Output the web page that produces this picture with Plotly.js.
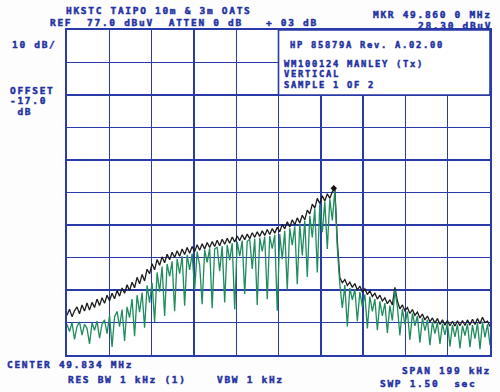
<!DOCTYPE html>
<html>
<head>
<meta charset="utf-8">
<script src="https://cdn.plot.ly/plotly-3.0.1.min.js"></script>
<style>
  html, body { margin:0; padding:0; background:#fdfdfd; }
  #chart { width:500px; height:392px; }
  text.annotation-text { letter-spacing: 1.7px; font-weight: 700; stroke: #2330a2; stroke-width: 0.45px; }
</style>
</head>
<body>
<div id="chart"></div>
<script>
// ---- instrument settings ----
const centerMHz = 49.834;
const spanMHz = 0.199;
const refLevel = 77.0;      // dBuV, top of screen
const dbPerDiv = 10;
const markerMHz = 49.8600;
const markerDb = 28.30;

// ---- trace 1 (black, max hold), dBuV per sweep point ----
const blackDb = [
  -10.8, -8.9, -11.2, -9.4, -8.2, -10.3, -7.6, -9.5, -7.0, -9.2, -6.8, -8.4,
  -5.8, -7.8, -5.4, -7.1, -4.6, -6.3, -4.0, -5.7, -3.1, -4.9, -2.4, -4.0,
  -1.4, -3.2, -0.6, -2.3, 0.9, -1.1, 1.8, -0.2, 3.4, 2.0, 5.1, 3.2,
  6.4, 4.6, 7.2, 5.4, 8.0, 6.3, 8.6, 7.0, 9.1, 7.4, 9.6, 7.9,
  10.1, 8.3, 10.4, 8.8, 10.9, 9.2, 11.2, 9.6, 11.6, 10.1, 11.9, 10.4,
  12.3, 10.6, 12.6, 11.1, 12.9, 11.4, 13.3, 11.8, 13.6, 12.2, 14.0, 12.5,
  14.2, 12.8, 14.6, 13.2, 14.9, 13.5, 15.2, 13.8, 15.6, 14.1, 15.9, 14.5,
  16.3, 14.9, 17.2, 15.8, 18.0, 16.4, 18.6, 17.1, 19.2, 17.6, 20.0, 18.6,
  21.6, 20.4, 23.4, 22.2, 25.2, 23.6, 26.0, 24.4, 26.6, 25.2, 27.2, 28.3,
  12.0, 0.8, -0.8, 0.2, -1.6, -0.6, -2.2, -1.0, -3.0, -1.8, -3.6, -2.6,
  -4.4, -3.2, -5.0, -4.0, -5.8, -4.6, -6.4, -5.4, -7.2, -6.0, -7.6, -2.2,
  -6.4, -8.8, -7.6, -9.4, -8.4, -10.2, -9.0, -10.8, -9.8, -11.6, -10.4, -12.2,
  -11.0, -12.8, -11.6, -13.2, -11.8, -13.6, -12.2, -13.8, -12.4, -14.0, -12.6, -14.1,
  -12.5, -14.0, -12.4, -13.9, -12.2, -13.8, -12.0, -13.6, -11.8, -13.4, -11.4, -13.0,
  -12.6, -14.2
];

// ---- trace 2 (green, sample), dBuV per sweep point ----
const greenDb = [
  -13.5, -15.8, -13.0, -18.2, -14.2, -12.8, -16.9, -13.6, -14.8, -19.6, -13.1, -15.4,
  -12.6, -17.8, -13.5, -12.2, -16.4, -10.8, -20.5, -11.2, -9.6, -14.3, -9.0, -18.7,
  -8.2, -11.5, -5.8, -17.2, -4.6, -9.8, -3.8, -14.6, -1.6, -6.9, -0.8, -12.8,
  2.4, -3.5, 4.2, -11.0, 5.0, 1.2, 5.8, -9.5, 6.6, 2.0, 7.4, -7.8,
  7.8, 3.2, 8.2, -3.0, 8.8, 4.6, -7.4, 9.4, 5.5, 9.8, -8.6, 9.6,
  10.2, 2.8, 10.5, -6.8, 10.9, 6.2, 11.4, -9.0, 11.8, 7.4, 12.2, -4.2,
  12.0, 12.6, 3.5, 12.8, -7.6, 13.1, 8.9, 13.4, -5.8, 13.6, 9.7, 14.0,
  -9.4, 14.2, 6.5, 15.2, -2.8, 16.0, 10.8, 16.6, -1.2, 17.4, 7.6, 18.4,
  1.0, 19.8, 13.2, 22.0, 2.4, 23.4, 14.8, 24.2, 9.6, 25.0, 18.4, 27.6,
  10.0, -1.2, -8.5, -1.5, -14.2, -2.4, -6.0, -2.8, -12.6, -3.6, -8.2, -4.4,
  -14.8, -5.0, -9.6, -5.8, -15.4, -6.5, -11.0, -7.0, -16.2, -7.8, -12.4, -3.0,
  -8.2, -17.0, -8.8, -13.6, -9.6, -18.4, -10.2, -14.0, -11.0, -19.2, -11.6, -15.5,
  -12.2, -20.0, -12.8, -16.4, -13.0, -19.6, -13.4, -16.8, -13.2, -20.4, -13.8, -17.4,
  -13.6, -21.0, -14.0, -17.0, -13.5, -20.6, -13.8, -18.0, -13.2, -21.2, -12.8, -17.6,
  -13.6, -20.0
];

// ---- screen texts ----
const titleLine = 'HKSTC TAIPO 10m & 3m OATS';
const refLine = 'REF  77.0 dBuV  ATTEN 0 dB';
const ampCorr = '+ 03 dB';
const mkrLine1 = 'MKR 49.860 0 MHz';
const mkrLine2 = '28.30 dBuV';
const scaleLine = '10 dB/';
const offsetLines = ['OFFSET', '-17.0', ' dB'];
const boxLines = ['HP 85879A Rev. A.02.00', 'WM100124 MANLEY (Tx)', 'VERTICAL', 'SAMPLE 1 OF 2'];
const centerLine = 'CENTER 49.834 MHz';
const rbwLine = 'RES BW 1 kHz (1)';
const vbwLine = 'VBW 1 kHz';
const spanLine = 'SPAN 199 kHz';
const swpLine = 'SWP 1.50  sec';

// sweep frequencies
const startMHz = centerMHz - spanMHz / 2;
const stopMHz = centerMHz + spanMHz / 2;
function sweepFreqs(n) {
  const out = [];
  for (let i = 0; i < n; i++) out.push(startMHz + i * (stopMHz - startMHz) / (n - 1));
  return out;
}

const BLUE = '#2a3aa8';
const TXT = '#2330a2';
const FONT = 'DejaVu Sans Mono';

// plot area in pixels: left 67, right 490, top 30, bottom 355
const L = 67, R = 490, T = 30, B = 355;
function ann(text, px, py, anchor, size) {
  return {
    xref: 'paper', yref: 'paper',
    x: (px - L) / (R - L), y: (B - py) / (B - T),
    xanchor: anchor || 'left', yanchor: 'middle',
    text: text, showarrow: false, borderpad: 0,
    font: { family: FONT, size: size || 9.5, color: TXT, weight: 700 }
  };
}

const traces = [
  {
    x: sweepFreqs(blackDb.length), y: blackDb, type: 'scatter', mode: 'lines',
    line: { color: '#1b1b1b', width: 1.3 }, hoverinfo: 'skip'
  },
  {
    x: sweepFreqs(greenDb.length), y: greenDb, type: 'scatter', mode: 'lines',
    line: { color: '#1f8c5c', width: 1.3 }, hoverinfo: 'skip'
  },
  {
    x: [markerMHz], y: [markerDb], type: 'scatter', mode: 'markers',
    marker: { color: '#111', size: 5, symbol: 'diamond' }, hoverinfo: 'skip'
  }
];

const layout = {
  width: 500, height: 392,
  margin: { l: L, r: 500 - R, t: T, b: 392 - B, pad: 0 },
  paper_bgcolor: '#fdfdfd', plot_bgcolor: '#ffffff',
  showlegend: false,
  xaxis: {
    range: [startMHz, stopMHz], tick0: startMHz, dtick: spanMHz / 10,
    showgrid: true, gridcolor: BLUE, gridwidth: 1.4,
    showticklabels: false, ticks: '', zeroline: false,
    showline: true, linecolor: BLUE, linewidth: 1.6, mirror: true
  },
  yaxis: {
    range: [refLevel - 10 * dbPerDiv, refLevel], tick0: refLevel, dtick: dbPerDiv,
    showgrid: true, gridcolor: BLUE, gridwidth: 1.4,
    showticklabels: false, ticks: '', zeroline: false,
    showline: true, linecolor: BLUE, linewidth: 1.6, mirror: true
  },
  shapes: [
    {
      type: 'rect', xref: 'paper', yref: 'paper', layer: 'above',
      x0: 0.5, x1: 1, y0: 0.8, y1: 1,
      fillcolor: '#ffffff', line: { color: BLUE, width: 1.6 }
    }
  ],
  annotations: [
    ann(titleLine, 65, 10),
    ann(refLine, 49, 22.5),
    ann(ampCorr, 265, 22.5),
    ann(mkrLine1, 493, 14, 'right'),
    ann(mkrLine2, 493, 25.5, 'right'),
    ann(scaleLine, 11, 45),
    ann(offsetLines[0], 9, 90),
    ann(offsetLines[1], 9, 100.5),
    ann(offsetLines[2], 9, 111),
    ann(boxLines[0], 289, 45, 'left', 8.8),
    ann(boxLines[1], 283, 63.5, 'left', 8.8),
    ann(boxLines[2], 283, 74, 'left', 8.8),
    ann(boxLines[3], 283, 85, 'left', 8.8),
    ann(centerLine, 6, 365),
    ann(rbwLine, 67, 379),
    ann(vbwLine, 216, 379),
    ann(spanLine, 492, 370, 'right'),
    ann(swpLine, 477, 383, 'right')
  ]
};

Plotly.newPlot('chart', traces, layout, { staticPlot: true, displayModeBar: false });
</script>
</body>
</html>
